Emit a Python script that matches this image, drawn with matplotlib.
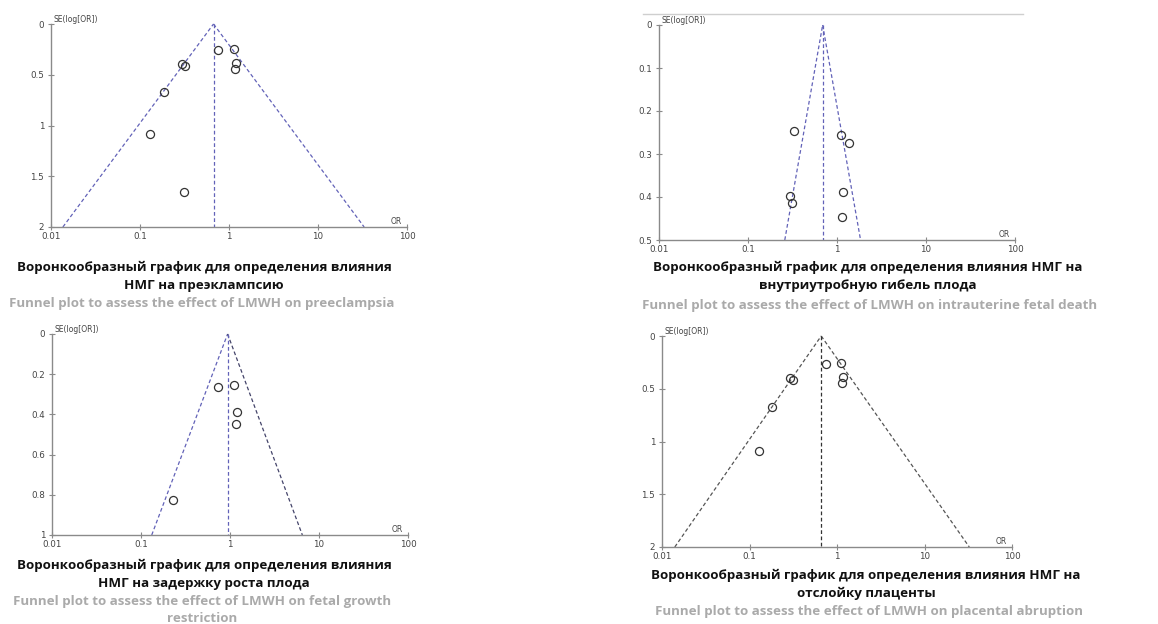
import matplotlib
matplotlib.use("Agg")
import matplotlib.pyplot as plt
from matplotlib.lines import Line2D

# --- data ---
# preeclampsia
pe_or = [0.296, 0.318, 0.76, 1.13, 1.20, 1.16, 0.185, 0.128, 0.312]
pe_se = [0.39, 0.41, 0.257, 0.243, 0.38, 0.44, 0.668, 1.085, 1.66]
pe_pooled = 0.67
pe_limits = [0.0136, 33.0]
pe_yticks = [0, 0.5, 1, 1.5, 2]
pe_ylabels = ['0', '0.5', '1', '1.5', '2']

# intrauterine fetal death
ifd_or = [0.333, 1.12, 1.36, 0.295, 0.314, 1.18, 1.15]
ifd_se = [0.247, 0.255, 0.274, 0.398, 0.415, 0.388, 0.447]
ifd_pooled = 0.69
ifd_limits = [0.259, 1.84]
ifd_yticks = [0, 0.1, 0.2, 0.3, 0.4, 0.5]
ifd_ylabels = ['0', '0.1', '0.2', '0.3', '0.4', '0.5']

# fetal growth restriction
fgr_or = [0.74, 1.12, 1.20, 1.17, 0.227]
fgr_se = [0.264, 0.252, 0.386, 0.446, 0.826]
fgr_pooled = 0.94
fgr_limits = [0.132, 6.5]
fgr_yticks = [0, 0.2, 0.4, 0.6, 0.8, 1]
fgr_ylabels = ['0', '0.2', '0.4', '0.6', '0.8', '1']

# placental abruption
pa_or = [0.29, 0.314, 0.74, 1.11, 1.17, 1.13, 0.182, 0.129]
pa_se = [0.40, 0.418, 0.263, 0.253, 0.389, 0.449, 0.674, 1.09]
pa_pooled = 0.66
pa_limits = [0.014, 32.5]
pa_yticks = [0, 0.5, 1, 1.5, 2]
pa_ylabels = ['0', '0.5', '1', '1.5', '2']

xticks = [0.01, 0.1, 1, 10, 100]
xlabels = ['0.01', '0.1', '1', '10', '100']

W, H = 1158, 624
fig = plt.figure(figsize=(W / 100, H / 100), dpi=100)
fig.patch.set_facecolor('white')


def box(x0, x1, y0, y1):
    # pixel box -> figure fraction
    return [x0 / W, 1 - y1 / H, (x1 - x0) / W, (y1 - y0) / H]


def funnel(rect, ors, ses, pooled, limits, yticks, ylabels, cols):
    ax = fig.add_axes(rect)
    semax = yticks[-1]
    dash = (0, (3, 2))
    ax.plot([limits[0], pooled], [semax, 0], color=cols[0], lw=0.9, ls=dash, clip_on=False)
    ax.plot([pooled, limits[1]], [0, semax], color=cols[2], lw=0.9, ls=dash, clip_on=False)
    ax.plot([pooled, pooled], [0, semax], color=cols[1], lw=0.9, ls=dash, clip_on=False)
    ax.plot(ors, ses, 'o', mfc='none', mec='#333333', ms=5.8, mew=0.9, ls='none')
    ax.set_xscale('log')
    ax.set_xlim(0.01, 100)
    ax.set_ylim(semax, 0)
    ax.set_xticks(xticks)
    ax.set_xticklabels(xlabels)
    ax.minorticks_off()
    ax.set_yticks(yticks)
    ax.set_yticklabels(ylabels)
    for s in ['top', 'right']:
        ax.spines[s].set_visible(False)
    for s in ['left', 'bottom']:
        ax.spines[s].set_color('#8a8a8a')
        ax.spines[s].set_linewidth(1)
    ax.tick_params(direction='inout', length=4, width=0.8, color='#8a8a8a',
                   labelsize=6.3, labelcolor='#444444', pad=1.5)
    ax.tick_params(axis='y', pad=3)
    ax.text(0.006, 1.0, 'SE(log[OR])', transform=ax.transAxes, ha='left',
            va='bottom', fontsize=5.5, color='#444444')
    ax.text(0.985, 0.005, 'OR', transform=ax.transAxes, ha='right',
            va='bottom', fontsize=5.5, color='#444444')
    return ax


blue = '#6262b8'
funnel(box(51, 407, 24, 227), pe_or, pe_se, pe_pooled, pe_limits,
       pe_yticks, pe_ylabels, [blue, blue, blue])
funnel(box(659, 1015, 25, 240), ifd_or, ifd_se, ifd_pooled, ifd_limits,
       ifd_yticks, ifd_ylabels, [blue, blue, blue])
funnel(box(52, 408, 334, 535), fgr_or, fgr_se, fgr_pooled, fgr_limits,
       fgr_yticks, fgr_ylabels, [blue, blue, '#44446a'])
funnel(box(662, 1012, 336, 547), pa_or, pa_se, pa_pooled, pa_limits,
       pa_yticks, pa_ylabels, ['#555555', '#333333', '#555555'])

# thin grey rule above the top-right chart
fig.add_artist(Line2D([643 / W, 1023 / W], [1 - 14 / H, 1 - 14 / H],
                      color='#cfcfcf', lw=1))


def caption(x, y, s, grey=False):
    fig.text(x / W, 1 - y / H, s, ha='center', va='center',
             family=['Open Sans', 'DejaVu Sans'], weight='bold', fontsize=9.6,
             color='#aaaaaa' if grey else '#111111')


caption(204, 267, 'Воронкообразный график для определения влияния')
caption(204, 286, 'НМГ на преэклампсию')
caption(202, 304, 'Funnel plot to assess the effect of LMWH on preeclampsia', True)

caption(868, 267, 'Воронкообразный график для определения влияния НМГ на')
caption(868, 286, 'внутриутробную гибель плода')
caption(870, 305, 'Funnel plot to assess the effect of LMWH on intrauterine fetal death', True)

caption(204, 565, 'Воронкообразный график для определения влияния')
caption(204, 583, 'НМГ на задержку роста плода')
caption(202, 602, 'Funnel plot to assess the effect of LMWH on fetal growth', True)
caption(202, 619, 'restriction', True)

caption(866, 575, 'Воронкообразный график для определения влияния НМГ на')
caption(866, 593, 'отслойку плаценты')
caption(869, 611, 'Funnel plot to assess the effect of LMWH on placental abruption', True)

fig.savefig('out.png', dpi=100)
